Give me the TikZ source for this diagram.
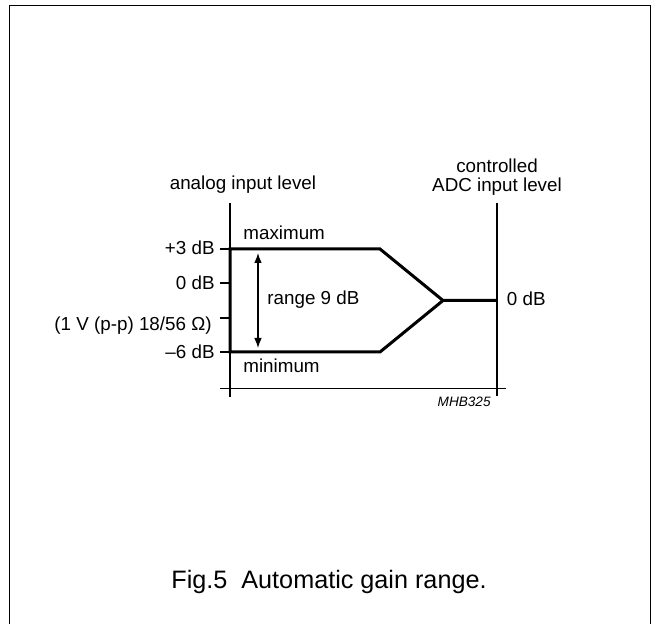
\documentclass[tikz,border=0pt]{standalone}
\usepackage{fontspec}
\setmainfont{Liberation Sans}
\usetikzlibrary{arrows.meta}

\begin{document}
\begin{tikzpicture}[x=0.5pt, y=-0.5pt,
        lbl/.style={inner sep=0pt, font=\fontsize{9.4}{11}\selectfont},
        axisline/.style={line width=0.7pt},
        levelline/.style={line width=1.5pt, line join=miter},
        dimarrow/.style={line width=0.6pt, {Latex[length=5pt,width=3.8pt]}-{Latex[length=5pt,width=3.8pt]}}]
    \useasboundingbox (0,0) rectangle (652,624);
    \draw[line width=0.85pt] (9.5,640) -- (9.5,5.5) -- (650.5,5.5) -- (650.5,640);

    % axes
    \coordinate (inTop) at (230, 203);
    \coordinate (inBot) at (230, 397);
    \coordinate (adcTop) at (497, 203);
    \coordinate (adcBot) at (497, 396);
    \coordinate (baseL) at (220, 388.5);
    \coordinate (baseR) at (506, 388.5);
    \draw[axisline] (inTop) -- (inBot);
    \draw[axisline] (adcTop) -- (adcBot);
    \draw[axisline] (baseL) -- (baseR);

    % ticks
    \foreach \y/\name in {249/tkMax, 283/tkZero, 318/tkRef, 352/tkMin} {
        \coordinate (\name) at (220, \y);
        \draw[axisline] (\name) -- (230, \y);
    }

    % level curve
    \coordinate (maxA) at (230, 249);
    \coordinate (maxB) at (380, 249);
    \coordinate (joint) at (443, 300.5);
    \coordinate (out) at (497, 300.5);
    \coordinate (minB) at (380, 352);
    \coordinate (minA) at (230, 352);
    \draw[levelline] (out) -- (joint) -- (maxB) -- (maxA) -- (minA) -- (minB) -- (joint);

    \coordinate (rngTop) at (258, 253);
    \coordinate (rngBot) at (258, 348);
    \draw[dimarrow] (rngTop) -- (rngBot);

    % labels
    \node[lbl, anchor=base] (inTitle) at (243, 190) {analog input level};
    \node[lbl, anchor=base] (adcTitleA) at (497, 173) {controlled};
    \node[lbl, anchor=base] (adcTitleB) at (497, 192) {ADC input level};
    \node[lbl, anchor=base east] (lvPlus) at (215, 255) {+3 dB};
    \node[lbl, anchor=base east] (lvZero) at (215, 290) {0 dB};
    \node[lbl, anchor=base east] (lvRef) at (212, 331) {(1 V (p-p) 18/56 Ω)};
    \node[lbl, anchor=base east] (lvMinus) at (215, 358.5) {–6 dB};
    \node[lbl, anchor=base west] (maxLbl) at (243, 240) {maximum};
    \node[lbl, anchor=base west] (minLbl) at (243, 372) {minimum};
    \node[lbl, anchor=base west] (rngLbl) at (267, 305) {range 9 dB};
    \node[lbl, anchor=base west] (outLbl) at (506.5, 305.5) {0 dB};
    \node[inner sep=0pt, anchor=base east, font=\fontsize{6.8}{8}\selectfont\itshape] (code) at (491, 406.5) {MHB325};
    \node[inner sep=0pt, anchor=base, font=\fontsize{12.6}{15}\selectfont] (caption) at (329, 588) {Fig.5\ \ Automatic gain range.};
\end{tikzpicture}
\end{document}
